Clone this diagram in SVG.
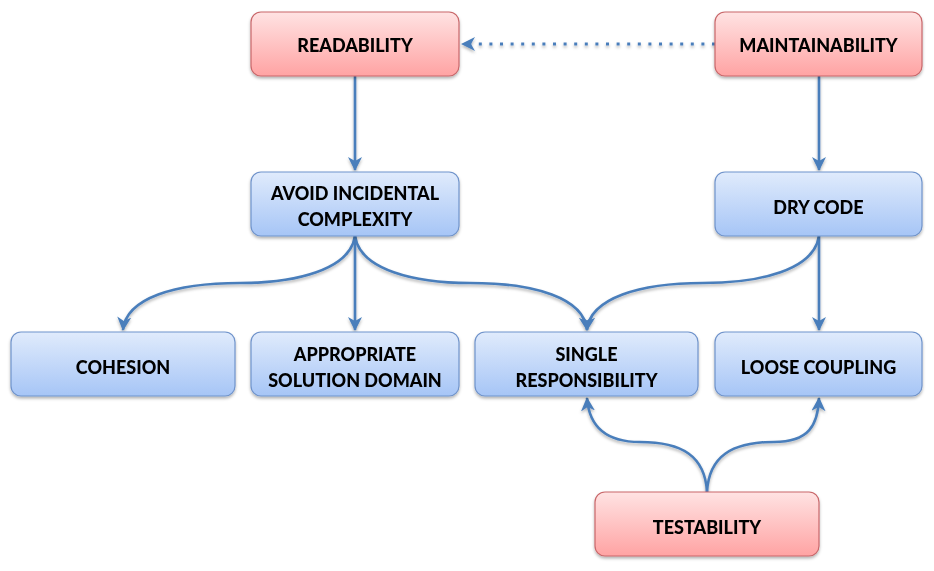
<svg xmlns="http://www.w3.org/2000/svg" width="934" height="571" viewBox="0 0 934 571">
<style>
.red{fill:url(#gr);stroke:#c9676a;stroke-width:1.2}
.blue{fill:url(#gb);stroke:#6f93cb;stroke-width:1.2}
.lbl{font-family:Lato,"Open Sans","Liberation Sans",sans-serif;font-weight:900;font-size:18px;fill:#000;text-anchor:middle}
.c{fill:none;stroke:#4a7ebb;stroke-width:2.6}
.dot{fill:none;stroke:#4a7ebb;stroke-width:3;stroke-dasharray:3 7.6}
</style>
<defs>
<linearGradient id="gr" x1="0" y1="0" x2="0" y2="1">
<stop offset="0" stop-color="#ffe3e3"/>
<stop offset="1" stop-color="#ffa3a3"/>
</linearGradient>
<linearGradient id="gb" x1="0" y1="0" x2="0" y2="1">
<stop offset="0" stop-color="#e0ebfc"/>
<stop offset="1" stop-color="#a6c5f6"/>
</linearGradient>
<filter id="sh" x="-10%" y="-20%" width="120%" height="150%">
<feDropShadow dx="0" dy="2" stdDeviation="1.6" flood-color="#000" flood-opacity="0.3"/>
</filter>
<marker id="ah" markerUnits="userSpaceOnUse" markerWidth="16" markerHeight="16" refX="13" refY="7" orient="auto">
<path d="M0,0 L14,7 L0,14 L4,7 Z" fill="#4a7ebb"/>
</marker>
</defs>
<g id="connectors" filter="url(#sh)">
<path class="c" d="M355,76 L355,170" marker-end="url(#ah)"/>
<path class="c" d="M819,76 L819,170" marker-end="url(#ah)"/>
<path class="dot" d="M715,44 L462,44" marker-end="url(#ah)"/>
<path class="c" d="M355,236 C350,270 295,283 240,283 C175,283 126,298 123,330" marker-end="url(#ah)"/>
<path class="c" d="M355,236 L355,330" marker-end="url(#ah)"/>
<path class="c" d="M355,236 C360,270 415,283 470,283 C535,283 584,298 587,330" marker-end="url(#ah)"/>
<path class="c" d="M819,236 C814,270 760,283 703,283 C640,283 590,298 587,330" marker-end="url(#ah)"/>
<path class="c" d="M819,236 L819,330" marker-end="url(#ah)"/>
<path class="c" d="M707,492 C705,456 682,442 640,442 C605,442 589,425 587,398" marker-end="url(#ah)"/>
<path class="c" d="M707,492 C709,456 732,442 774,442 C809,442 818,425 819,398" marker-end="url(#ah)"/>
</g>
<g id="readability" filter="url(#sh)"><rect class="red" x="251" y="12" width="208" height="64" rx="10"/><text class="lbl" x="355" y="52">READABILITY</text></g>
<g id="maintainability" filter="url(#sh)"><rect class="red" x="715" y="12" width="207" height="64" rx="10"/><text class="lbl" x="818.5" y="52">MAINTAINABILITY</text></g>
<g id="avoid" filter="url(#sh)"><rect class="blue" x="251" y="172" width="208" height="64" rx="10"/><text class="lbl" x="355" y="200">AVOID INCIDENTAL</text><text class="lbl" x="355" y="226">COMPLEXITY</text></g>
<g id="dry" filter="url(#sh)"><rect class="blue" x="715" y="172" width="207" height="64" rx="10"/><text class="lbl" x="818.5" y="214">DRY CODE</text></g>
<g id="cohesion" filter="url(#sh)"><rect class="blue" x="11" y="332" width="224" height="64" rx="10"/><text class="lbl" x="123" y="374">COHESION</text></g>
<g id="appropriate" filter="url(#sh)"><rect class="blue" x="251" y="332" width="208" height="64" rx="10"/><text class="lbl" x="355" y="361">APPROPRIATE</text><text class="lbl" x="355" y="387">SOLUTION DOMAIN</text></g>
<g id="single" filter="url(#sh)"><rect class="blue" x="475" y="332" width="223" height="64" rx="10"/><text class="lbl" x="586.5" y="361">SINGLE</text><text class="lbl" x="586.5" y="387">RESPONSIBILITY</text></g>
<g id="loose" filter="url(#sh)"><rect class="blue" x="715" y="332" width="207" height="64" rx="10"/><text class="lbl" x="818.5" y="374">LOOSE COUPLING</text></g>
<g id="testability" filter="url(#sh)"><rect class="red" x="595" y="492" width="224" height="64" rx="10"/><text class="lbl" x="707" y="534">TESTABILITY</text></g>
</svg>
